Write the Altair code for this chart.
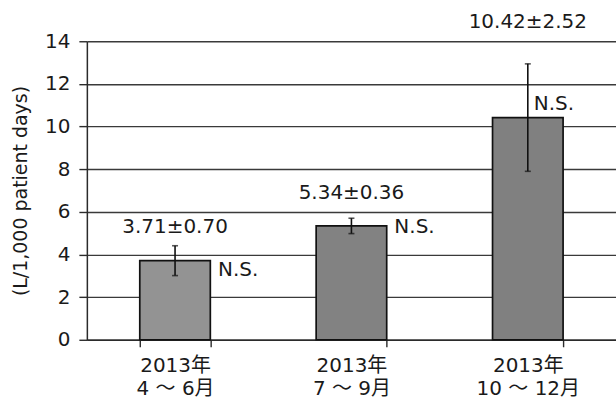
import altair as alt
import pandas as pd

# Quarterly usage (mean ± SD), L per 1,000 patient days
periods = ["2013年\n4 ～ 6月", "2013年\n7 ～ 9月", "2013年\n10 ～ 12月"]
means = [3.71, 5.34, 10.42]
sds = [0.70, 0.36, 2.52]
significance = ["N.S.", "N.S.", "N.S."]
y_ticks = [0, 2, 4, 6, 8, 10, 12, 14]

# Styling for each bar and its annotations (pixel offsets)
bar_colors = ["#939393", "#828282", "#808080"]
value_dy = [-19, -25, -42]
sig_dx = [43, 43, 6]
sig_dy = [9, 1, -14]

FONT = "DejaVu Sans, Noto Sans CJK JP, sans-serif"
INK = "#1a1a1a"
LINE = "#2b2b2b"

df = pd.DataFrame({
    "period": periods,
    "mean": means,
    "sd": sds,
    "sig": significance,
    "color": bar_colors,
})
df["upper"] = df["mean"] + df["sd"]
df["lower"] = df["mean"] - df["sd"]
df["label"] = [f"{m:.2f}±{s:.2f}" for m, s in zip(means, sds)]

x_enc = alt.X(
    "period:N",
    sort=periods,
    scale=alt.Scale(paddingInner=0.6, paddingOuter=0.3),
    axis=alt.Axis(
        title=None,
        tickBand="extent",
        labelExpr="split(datum.label, '\\n')",
        labelAngle=0,
        labelFont=FONT,
        labelFontSize=20,
        labelColor=INK,
        labelBaseline="top",
        labelLineHeight=23,
        labelPadding=9,
        tickSize=7,
        tickColor=LINE,
        tickWidth=1.4,
        domainColor=LINE,
        domainWidth=1.5,
        grid=False,
    ),
)

y_scale = alt.Scale(domain=[0, 14], nice=False)

base = alt.Chart(df)

bars = base.mark_bar(stroke="#111111", strokeWidth=1.7).encode(
    x=x_enc,
    y=alt.Y(
        "mean:Q",
        scale=y_scale,
        axis=alt.Axis(
            values=y_ticks,
            title="(L/1,000 patient days)",
            titleFont=FONT,
            titleFontSize=19,
            titleFontWeight="normal",
            titleColor=INK,
            titleX=-56,
            titleBaseline="bottom",
            labelFont=FONT,
            labelFontSize=20,
            labelColor=INK,
            labelPadding=9,
            tickSize=8,
            tickColor=LINE,
            tickWidth=1.4,
            domainColor=LINE,
            domainWidth=1.5,
            grid=True,
            gridColor="#3a3a3a",
            gridWidth=1.4,
        ),
    ),
    color=alt.Color("color:N", scale=None),
)

err = base.mark_rule(color="#111111", strokeWidth=1.6).encode(
    x=alt.X("period:N", sort=periods),
    y=alt.Y("lower:Q", scale=y_scale),
    y2="upper:Q",
)

caps_hi = base.mark_tick(color="#111111", size=6, thickness=1.6).encode(
    x=alt.X("period:N", sort=periods),
    y=alt.Y("upper:Q", scale=y_scale),
)
caps_lo = base.mark_tick(color="#111111", size=6, thickness=1.6).encode(
    x=alt.X("period:N", sort=periods),
    y=alt.Y("lower:Q", scale=y_scale),
)

layers = [bars, err, caps_hi, caps_lo]

for i, p in enumerate(periods):
    one = base.transform_filter(alt.datum.period == p)
    layers.append(
        one.mark_text(
            font=FONT, fontSize=20, color=INK, baseline="middle", dy=value_dy[i]
        ).encode(
            x=alt.X("period:N", sort=periods),
            y=alt.Y("upper:Q", scale=y_scale),
            text="label:N",
        )
    )
    layers.append(
        one.mark_text(
            font=FONT, fontSize=20, color=INK, align="left", baseline="middle",
            dx=sig_dx[i], dy=sig_dy[i],
        ).encode(
            x=alt.X("period:N", sort=periods),
            y=alt.Y("mean:Q", scale=y_scale),
            text="sig:N",
        )
    )

chart = (
    alt.layer(*layers)
    .properties(
        width=530,
        height=299,
        autosize=alt.AutoSizeParams(type="none"),
        padding={"left": 87, "top": 41, "right": 0, "bottom": 60},
        background="white",
    )
    .configure_view(stroke=None)
)

chart.save("out.html", embed_options={"renderer": "svg", "actions": False})
